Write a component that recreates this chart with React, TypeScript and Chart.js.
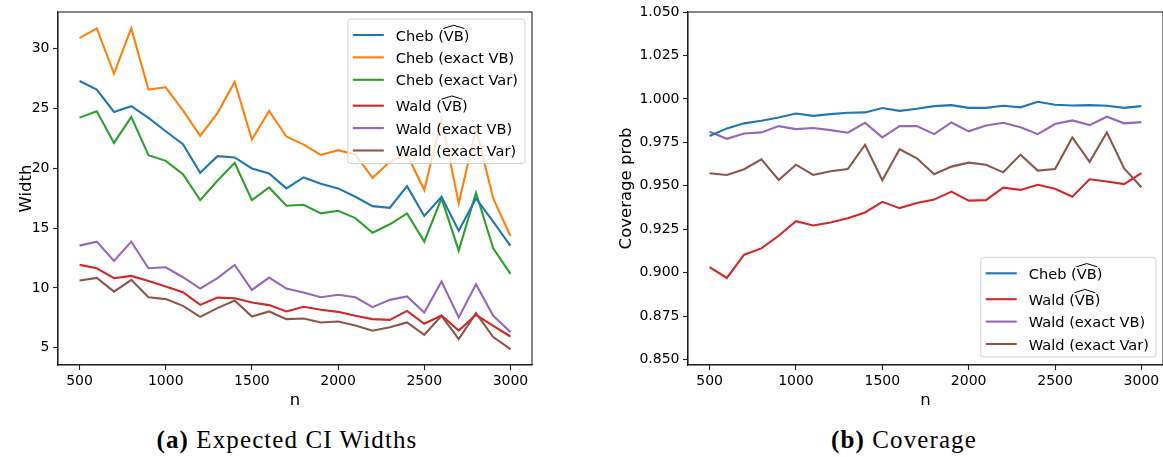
import React, { useEffect, useRef } from 'react';
import { Chart, registerables } from 'chart.js';

Chart.register(...registerables);

// ---------- data ----------
const nValues = [500, 600, 700, 800, 900, 1000, 1100, 1200, 1300, 1400, 1500, 1600, 1700, 1800, 1900, 2000, 2100, 2200, 2300, 2400, 2500, 2600, 2700, 2800, 2900, 3000];
const xTickValues = [500, 1000, 1500, 2000, 2500, 3000];
const widthTickValues = [5, 10, 15, 20, 25, 30];
const coverageTickValues = [0.85, 0.875, 0.9, 0.925, 0.95, 0.975, 1.0, 1.025, 1.05];

// (a) Expected CI widths
const widthChebHatVB = [27.28, 26.56, 24.69, 25.17, 24.19, 23.08, 22.0, 19.61, 21.0, 20.89, 19.97, 19.56, 18.31, 19.22, 18.69, 18.31, 17.61, 16.83, 16.69, 18.5, 16.0, 17.61, 14.78, 17.47, 15.53, 13.5];
const widthChebExactVB = [30.86, 31.67, 27.9, 31.67, 26.56, 26.75, 24.83, 22.69, 24.6, 27.19, 22.39, 24.78, 22.64, 21.97, 21.1, 21.5, 21.15, 19.19, 20.53, 21.14, 18.17, 24.1, 17.06, 23.3, 17.47, 14.33];
const widthChebExactVar = [24.22, 24.75, 22.11, 24.28, 21.08, 20.61, 19.5, 17.33, 18.94, 20.44, 17.33, 18.39, 16.86, 16.94, 16.22, 16.44, 15.83, 14.61, 15.31, 16.22, 13.86, 17.47, 13.11, 17.94, 13.31, 11.17];
const widthWaldHatVB = [11.92, 11.64, 10.81, 11.0, 10.58, 10.11, 9.64, 8.58, 9.19, 9.14, 8.78, 8.56, 8.03, 8.42, 8.17, 8.0, 7.67, 7.39, 7.33, 8.08, 7.0, 7.69, 6.44, 7.75, 6.83, 5.94];
const widthWaldExactVB = [13.53, 13.86, 12.25, 13.86, 11.64, 11.72, 10.89, 9.94, 10.81, 11.92, 9.83, 10.86, 9.94, 9.61, 9.22, 9.42, 9.22, 8.39, 9.0, 9.28, 7.94, 10.53, 7.53, 10.31, 7.67, 6.31];
const widthWaldExactVar = [10.61, 10.83, 9.69, 10.67, 9.22, 9.06, 8.5, 7.58, 8.31, 8.94, 7.61, 8.03, 7.39, 7.44, 7.11, 7.19, 6.86, 6.42, 6.72, 7.11, 6.08, 7.67, 5.72, 7.89, 5.89, 4.89];

// (b) Coverage
const covChebHatVB = [0.9786, 0.983, 0.9859, 0.9874, 0.9893, 0.9916, 0.9902, 0.9912, 0.992, 0.9922, 0.9947, 0.9931, 0.9943, 0.9958, 0.9964, 0.9948, 0.9948, 0.996, 0.9951, 0.9983, 0.9966, 0.9962, 0.9964, 0.996, 0.9948, 0.9958];
const covWaldHatVB = [0.9032, 0.8969, 0.9103, 0.9139, 0.9212, 0.9296, 0.9271, 0.9288, 0.9313, 0.9346, 0.9407, 0.9371, 0.94, 0.942, 0.9466, 0.9414, 0.9417, 0.9489, 0.9476, 0.9505, 0.9482, 0.9437, 0.9537, 0.9524, 0.9509, 0.9572];
const covWaldExactVB = [0.9811, 0.977, 0.9801, 0.9807, 0.9843, 0.9826, 0.9832, 0.982, 0.9805, 0.9862, 0.9778, 0.9843, 0.9843, 0.9797, 0.9864, 0.9813, 0.9847, 0.9862, 0.9836, 0.9797, 0.9855, 0.9876, 0.9849, 0.9897, 0.9859, 0.9866];
const covWaldExactVar = [0.9572, 0.9562, 0.9595, 0.9652, 0.9533, 0.9621, 0.9562, 0.9583, 0.9596, 0.9736, 0.9532, 0.971, 0.9658, 0.9566, 0.961, 0.9633, 0.9621, 0.9577, 0.9679, 0.9587, 0.9596, 0.9778, 0.9638, 0.9807, 0.96, 0.9491];

const LABEL_CHEB_HAT = 'Cheb ($\\widehat{VB}$)';
const LABEL_CHEB_EXACT_VB = 'Cheb (exact VB)';
const LABEL_CHEB_EXACT_VAR = 'Cheb (exact Var)';
const LABEL_WALD_HAT = 'Wald ($\\widehat{VB}$)';
const LABEL_WALD_EXACT_VB = 'Wald (exact VB)';
const LABEL_WALD_EXACT_VAR = 'Wald (exact Var)';

const C_BLUE = '#1f77b4';
const C_ORANGE = '#ff7f0e';
const C_GREEN = '#2ca02c';
const C_RED = '#d62728';
const C_PURPLE = '#9467bd';
const C_BROWN = '#8c564b';

const FONT = '"DejaVu Sans", Verdana, sans-serif';
const AXIS_COLOR = '#222';

// ---------- plugin: frame + in-axes legend ----------
const framePlugin = {
  id: 'mplFrame',
  afterDatasetsDraw(chart: any) {
    const { ctx, chartArea: a } = chart;
    ctx.save();
    ctx.strokeStyle = AXIS_COLOR;
    ctx.lineWidth = 1.1;
    ctx.strokeRect(a.left, a.top, a.right - a.left, a.bottom - a.top);
    ctx.restore();
  },
};

function parseLabel(label: string) {
  const m = /^(.*)\$\\widehat\{(.+)\}\$(.*)$/.exec(label);
  if (m) return { pre: m[1], hat: m[2], post: m[3] };
  return { pre: label, hat: '', post: '' };
}

const boxLegendPlugin = {
  id: 'boxLegend',
  afterDraw(chart: any, _args: any, opts: any) {
    if (!opts || !opts.display) return;
    const { ctx, chartArea: a } = chart;
    const fs = 14.6;
    const rowH = 22.4;
    const hatExtra = 3.5;
    ctx.save();
    ctx.font = `${fs}px ${FONT}`;
    const items = chart.data.datasets.map((ds: any) => ({ ...parseLabel(ds.label), color: ds.borderColor }));
    let textW = 0;
    items.forEach((it: any) => {
      const w = ctx.measureText(it.pre + it.hat + it.post).width;
      if (w > textW) textW = w;
    });
    const padL = 5, lineLen = 31, gap = 12, padR = 7;
    const boxW = padL + lineLen + gap + textW + padR;
    const centers: number[] = [];
    let y = 12.5;
    items.forEach((it: any) => {
      if (it.hat) y += hatExtra;
      centers.push(y);
      y += rowH;
    });
    const boxH = centers[centers.length - 1] + 13;
    const right = a.right - 7;
    const left = right - boxW;
    const top = opts.corner === 'bottomright' ? a.bottom - 8 - boxH : a.top + 7;

    // box
    const r = 3;
    ctx.beginPath();
    ctx.moveTo(left + r, top);
    ctx.lineTo(left + boxW - r, top);
    ctx.quadraticCurveTo(left + boxW, top, left + boxW, top + r);
    ctx.lineTo(left + boxW, top + boxH - r);
    ctx.quadraticCurveTo(left + boxW, top + boxH, left + boxW - r, top + boxH);
    ctx.lineTo(left + r, top + boxH);
    ctx.quadraticCurveTo(left, top + boxH, left, top + boxH - r);
    ctx.lineTo(left, top + r);
    ctx.quadraticCurveTo(left, top, left + r, top);
    ctx.closePath();
    ctx.fillStyle = 'rgba(255,255,255,0.8)';
    ctx.fill();
    ctx.strokeStyle = '#d0d0d0';
    ctx.lineWidth = 1;
    ctx.stroke();

    items.forEach((it: any, i: number) => {
      const cy = top + centers[i];
      ctx.strokeStyle = it.color;
      ctx.lineWidth = 2.1;
      ctx.beginPath();
      ctx.moveTo(left + padL, cy);
      ctx.lineTo(left + padL + lineLen, cy);
      ctx.stroke();
      const tx = left + padL + lineLen + gap;
      const base = cy + 5.5;
      ctx.fillStyle = '#000';
      ctx.textBaseline = 'alphabetic';
      ctx.textAlign = 'left';
      ctx.fillText(it.pre + it.hat + it.post, tx, base);
      if (it.hat) {
        const x0 = tx + ctx.measureText(it.pre).width;
        const w = ctx.measureText(it.hat).width;
        const capTop = base - 0.729 * fs;
        ctx.strokeStyle = '#000';
        ctx.lineWidth = 1;
        ctx.beginPath();
        ctx.moveTo(x0 - 0.5, capTop - 1.3);
        ctx.lineTo(x0 + w / 2, capTop - 4.6);
        ctx.lineTo(x0 + w + 0.5, capTop - 1.3);
        ctx.stroke();
      }
    });
    ctx.restore();
  },
};

function makeScales(yMin: number, yMax: number, yTicks: number[], yTitle: string, yAxisWidth: number, decimals: number) {
  const tickFont = { family: FONT, size: 14 };
  const titleFont = { family: FONT, size: 16.5 };
  return {
    x: {
      type: 'linear',
      min: 375,
      max: 3125,
      afterBuildTicks: (s: any) => { s.ticks = xTickValues.map((v) => ({ value: v })); },
      afterFit: (s: any) => { s.height = 50; },
      grid: { drawOnChartArea: false, drawTicks: true, tickLength: 5, tickWidth: 1.1, tickColor: AXIS_COLOR },
      border: { display: true, color: AXIS_COLOR, width: 1.1 },
      ticks: { font: tickFont, color: '#000', padding: 3, maxRotation: 0, autoSkip: false, callback: (v: any) => String(v) },
      title: { display: true, text: 'n', font: titleFont, color: '#000', padding: { top: 0, bottom: 4 } },
    },
    y: {
      type: 'linear',
      min: yMin,
      max: yMax,
      afterBuildTicks: (s: any) => { s.ticks = yTicks.map((v) => ({ value: v })); },
      afterFit: (s: any) => { s.width = yAxisWidth; },
      grid: { drawOnChartArea: false, drawTicks: true, tickLength: 5, tickWidth: 1.1, tickColor: AXIS_COLOR },
      border: { display: true, color: AXIS_COLOR, width: 1.1 },
      ticks: { font: tickFont, color: '#000', padding: 3.5, autoSkip: false, callback: (v: any) => Number(v).toFixed(decimals) },
      title: { display: true, text: yTitle, font: titleFont, color: '#000', padding: { top: 17, bottom: 0 } },
    },
  };
}

function ds(label: string, data: number[], color: string) {
  return {
    label,
    data: data.map((v, i) => ({ x: nValues[i], y: v })),
    borderColor: color,
    backgroundColor: color,
    borderWidth: 2.1,
    pointRadius: 0,
    tension: 0,
    fill: false,
  };
}

export default function App() {
  const leftRef = useRef<HTMLCanvasElement | null>(null);
  const rightRef = useRef<HTMLCanvasElement | null>(null);

  useEffect(() => {
    const left = new Chart(leftRef.current as HTMLCanvasElement, {
      type: 'line',
      data: {
        datasets: [
          ds(LABEL_CHEB_HAT, widthChebHatVB, C_BLUE),
          ds(LABEL_CHEB_EXACT_VB, widthChebExactVB, C_ORANGE),
          ds(LABEL_CHEB_EXACT_VAR, widthChebExactVar, C_GREEN),
          ds(LABEL_WALD_HAT, widthWaldHatVB, C_RED),
          ds(LABEL_WALD_EXACT_VB, widthWaldExactVB, C_PURPLE),
          ds(LABEL_WALD_EXACT_VAR, widthWaldExactVar, C_BROWN),
        ],
      },
      options: {
        animation: false,
        responsive: false,
        maintainAspectRatio: false,
        layout: { padding: { left: 0, top: 12, right: 28, bottom: 0 } },
        plugins: {
          legend: { display: false },
          tooltip: { enabled: false },
          boxLegend: { display: true, corner: 'topright' },
        } as any,
        scales: makeScales(3.56, 33.04, widthTickValues, 'Width', 58, 0) as any,
      },
      plugins: [framePlugin, boxLegendPlugin],
    });

    const right = new Chart(rightRef.current as HTMLCanvasElement, {
      type: 'line',
      data: {
        datasets: [
          ds(LABEL_CHEB_HAT, covChebHatVB, C_BLUE),
          ds(LABEL_WALD_HAT, covWaldHatVB, C_RED),
          ds(LABEL_WALD_EXACT_VB, covWaldExactVB, C_PURPLE),
          ds(LABEL_WALD_EXACT_VAR, covWaldExactVar, C_BROWN),
        ],
      },
      options: {
        animation: false,
        responsive: false,
        maintainAspectRatio: false,
        layout: { padding: { left: 0, top: 12, right: 0, bottom: 0 } },
        plugins: {
          legend: { display: false },
          tooltip: { enabled: false },
          boxLegend: { display: true, corner: 'bottomright' },
        } as any,
        scales: makeScales(0.8468, 1.05, coverageTickValues, 'Coverage prob', 88, 3) as any,
      },
      plugins: [framePlugin, boxLegendPlugin],
    });

    return () => {
      left.destroy();
      right.destroy();
    };
  }, []);

  const captionStyle: React.CSSProperties = {
    position: 'absolute',
    top: 425,
    fontFamily: '"Liberation Serif", "Times New Roman", serif',
    fontSize: 25,
    letterSpacing: 1.1,
    color: '#000',
    textAlign: 'center',
    whiteSpace: 'nowrap',
    lineHeight: '30px',
  };

  return (
    <div style={{ position: 'absolute', left: 0, top: 0, width: 1163, height: 457, background: '#fff', overflow: 'hidden' }}>
      <canvas ref={leftRef} width={560} height={415} style={{ position: 'absolute', left: 0, top: 0 }} />
      <canvas ref={rightRef} width={563} height={415} style={{ position: 'absolute', left: 600, top: 0 }} />
      <div style={{ ...captionStyle, left: 0, width: 574 }}>
        <b>(a)</b> Expected CI Widths
      </div>
      <div style={{ ...captionStyle, left: 614, width: 580 }}>
        <b>(b)</b> Coverage
      </div>
    </div>
  );
}
